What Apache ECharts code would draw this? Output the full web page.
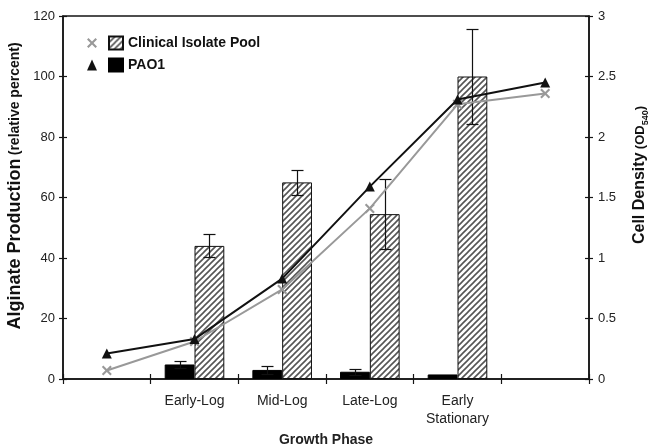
<!DOCTYPE html>
<html>
<head>
<meta charset="utf-8">
<script src="https://cdn.jsdelivr.net/npm/echarts@6/dist/echarts.min.js"></script>
<style>
html,body{margin:0;padding:0;background:#fff;}
#chart{width:648px;height:446px;}
</style>
</head>
<body>
<div id="chart"></div>
<script>
// ---- data ----
var categories = ['', 'Early-Log', 'Mid-Log', 'Late-Log', 'Early\nStationary', ''];
var pao1Alginate = ['-', 4.8, 3.0, 2.4, 1.5, '-'];
var pao1AlginateErr = [null, 1.1, 1.2, 1.0, null, null];
var clinicalAlginate = ['-', 44, 65, 54.5, 100, '-'];
var clinicalAlginateErr = [null, 3.8, 4.1, 11.5, 15.8, null];
var pao1Density = [0.21, 0.33, 0.83, 1.59, 2.31, 2.45];
var clinicalDensity = [0.07, 0.31, 0.74, 1.41, 2.27, 2.36];
var leftTicks = {min: 0, max: 120, interval: 20};
var rightTicks = {min: 0, max: 3, interval: 0.5};

// hatch pattern
var pc = document.createElement('canvas');
pc.width = 6; pc.height = 6;
var ctx = pc.getContext('2d');
ctx.fillStyle = '#fff'; ctx.fillRect(0, 0, 6, 6);
ctx.strokeStyle = '#555'; ctx.lineWidth = 1.6;
ctx.beginPath();
ctx.moveTo(0, 6); ctx.lineTo(6, 0);
ctx.moveTo(-1, 1); ctx.lineTo(1, -1);
ctx.moveTo(5, 7); ctx.lineTo(7, 5);
ctx.stroke();
var hatch = {image: pc, repeat: 'repeat'};

var GAP = 0.32;
var errData = [];
for (var i = 0; i < categories.length; i++) {
  if (pao1AlginateErr[i] != null) errData.push([i, pao1Alginate[i], pao1AlginateErr[i], 0]);
  if (clinicalAlginateErr[i] != null) errData.push([i, clinicalAlginate[i], clinicalAlginateErr[i], 1]);
}

var xMark = 'path://M1.5,0 L5,3.5 L8.5,0 L10,1.5 L6.5,5 L10,8.5 L8.5,10 L5,6.5 L1.5,10 L0,8.5 L3.5,5 L0,1.5 Z';
var font = 'Liberation Sans';
var axisColor = '#151515';

var chart = echarts.init(document.getElementById('chart'));
chart.setOption({
  animation: false,
  textStyle: {fontFamily: font},
  grid: {left: 63, right: 59, top: 16, bottom: 67, outerBoundsMode: 'none', containLabel: false,
         show: true, borderColor: axisColor, borderWidth: 1.5, backgroundColor: 'transparent'},
  legend: [
    {
      orient: 'vertical', left: 82, top: 30, itemGap: 6, itemWidth: 10, itemHeight: 11,
      data: [{name: 'Clinical Isolate Pool OD', icon: xMark}, {name: 'PAO1 OD', icon: 'triangle'}],
      formatter: function () { return ' '; },
      textStyle: {fontSize: 14, lineHeight: 16},
      selectedMode: false
    },
    {
      orient: 'vertical', left: 103, top: 30, itemGap: 6, itemWidth: 14, itemHeight: 13,
      data: [{name: 'Clinical Isolate Pool', icon: 'rect'}, {name: 'PAO1', icon: 'rect'}],
      textStyle: {fontSize: 14, lineHeight: 16, fontWeight: 'bold', color: '#111', fontFamily: font},
      selectedMode: false
    }
  ],
  xAxis: [
    {
      type: 'category', data: categories, position: 'bottom', boundaryGap: true,
      axisLine: {lineStyle: {color: axisColor, width: 1.5}},
      axisTick: {show: true, length: 5, lineStyle: {color: axisColor, width: 1.2}},
      axisLabel: {fontSize: 14, color: '#222', margin: 13, lineHeight: 18, interval: 0},
      name: 'Growth Phase', nameLocation: 'middle', nameGap: 53,
      nameTextStyle: {fontSize: 14, fontWeight: 'bold', color: '#222'}
    },
    {
      type: 'category', data: categories, position: 'bottom', boundaryGap: true,
      axisLine: {show: false},
      axisTick: {show: true, inside: true, length: 5, lineStyle: {color: axisColor, width: 1.2}},
      axisLabel: {show: false}
    }
  ],
  yAxis: [
    {
      type: 'value', position: 'left', min: leftTicks.min, max: leftTicks.max, interval: leftTicks.interval,
      axisLine: {show: true, lineStyle: {color: axisColor, width: 1.5}},
      axisTick: {show: true, length: 4, lineStyle: {color: axisColor, width: 1.2}},
      axisLabel: {fontSize: 13, color: '#222', margin: 8},
      splitLine: {show: false}
    },
    {
      type: 'value', position: 'right', min: rightTicks.min, max: rightTicks.max, interval: rightTicks.interval,
      axisLine: {show: true, lineStyle: {color: axisColor, width: 1.5}},
      axisTick: {show: true, length: 4, lineStyle: {color: axisColor, width: 1.2}},
      axisLabel: {fontSize: 13, color: '#222', margin: 9},
      splitLine: {show: false}
    },
    {
      type: 'value', position: 'left', min: leftTicks.min, max: leftTicks.max, interval: leftTicks.interval,
      axisLine: {show: false}, axisLabel: {show: false}, splitLine: {show: false},
      axisTick: {show: true, inside: true, length: 4, lineStyle: {color: axisColor, width: 1.2}}
    },
    {
      type: 'value', position: 'right', min: rightTicks.min, max: rightTicks.max, interval: rightTicks.interval,
      axisLine: {show: false}, axisLabel: {show: false}, splitLine: {show: false},
      axisTick: {show: true, inside: true, length: 4, lineStyle: {color: axisColor, width: 1.2}}
    }
  ],
  graphic: [
    {
      type: 'text', x: 15, y: 186, rotation: Math.PI / 2,
      style: {
        text: '{a|Alginate Production} {b|(relative percent)}',
        align: 'center', verticalAlign: 'middle',
        rich: {
          a: {fontSize: 18, fontWeight: 'bold', fontFamily: font, fill: '#111', lineHeight: 20},
          b: {fontSize: 14, fontWeight: 'bold', fontFamily: font, fill: '#111', lineHeight: 20}
        }
      }
    },
    {
      type: 'text', x: 640, y: 175, rotation: Math.PI / 2,
      style: {
        text: '{a|Cell Density} {b|(OD}{s|540}{b|)}',
        align: 'center', verticalAlign: 'middle',
        rich: {
          a: {fontSize: 16, fontWeight: 'bold', fontFamily: font, fill: '#111', lineHeight: 20},
          b: {fontSize: 13, fontWeight: 'bold', fontFamily: font, fill: '#111', lineHeight: 20},
          s: {fontSize: 9, fontWeight: 'bold', fontFamily: font, fill: '#111', lineHeight: 20, verticalAlign: 'bottom'}
        }
      }
    }
  ],
  series: [
    {
      name: 'PAO1', type: 'bar', xAxisIndex: 0, yAxisIndex: 0,
      data: pao1Alginate, barGap: '0%', barCategoryGap: (GAP * 100) + '%',
      itemStyle: {color: '#000', borderColor: '#000', borderWidth: 1}
    },
    {
      name: 'Clinical Isolate Pool', type: 'bar', xAxisIndex: 0, yAxisIndex: 0,
      data: clinicalAlginate, barGap: '0%', barCategoryGap: (GAP * 100) + '%',
      itemStyle: {color: hatch, borderColor: '#111', borderWidth: 1}
    },
    {
      type: 'custom', name: 'err', xAxisIndex: 0, yAxisIndex: 0, data: errData, z: 3,
      renderItem: function (params, api) {
        var x = api.value(0), v = api.value(1), e = api.value(2), which = api.value(3);
        var band = api.size([1, 0])[0];
        var bw = band * (1 - GAP) / 2;
        var cx = Math.round(api.coord([x, v])[0] + (which ? bw / 2 : -bw / 2)) + 0.5;
        var top = Math.round(api.coord([x, v + e])[1]) + 0.5;
        var bot = Math.round(api.coord([x, v - e])[1]) + 0.5;
        var st = {stroke: '#111', lineWidth: 1.2};
        return {type: 'group', children: [
          {type: 'line', shape: {x1: cx, y1: top, x2: cx, y2: bot}, style: st},
          {type: 'line', shape: {x1: cx - 6, y1: top, x2: cx + 6, y2: top}, style: st},
          {type: 'line', shape: {x1: cx - 6, y1: bot, x2: cx + 6, y2: bot}, style: st}
        ]};
      }
    },
    {
      name: 'Clinical Isolate Pool OD', type: 'line', xAxisIndex: 0, yAxisIndex: 1,
      data: clinicalDensity, symbol: xMark, symbolSize: 10, z: 4,
      lineStyle: {color: '#999', width: 2}, itemStyle: {color: '#999'}
    },
    {
      name: 'PAO1 OD', type: 'line', xAxisIndex: 0, yAxisIndex: 1,
      data: pao1Density, symbol: 'triangle', symbolSize: 10, z: 5,
      lineStyle: {color: '#111', width: 2}, itemStyle: {color: '#111'}
    }
  ]
});
</script>
</body>
</html>
